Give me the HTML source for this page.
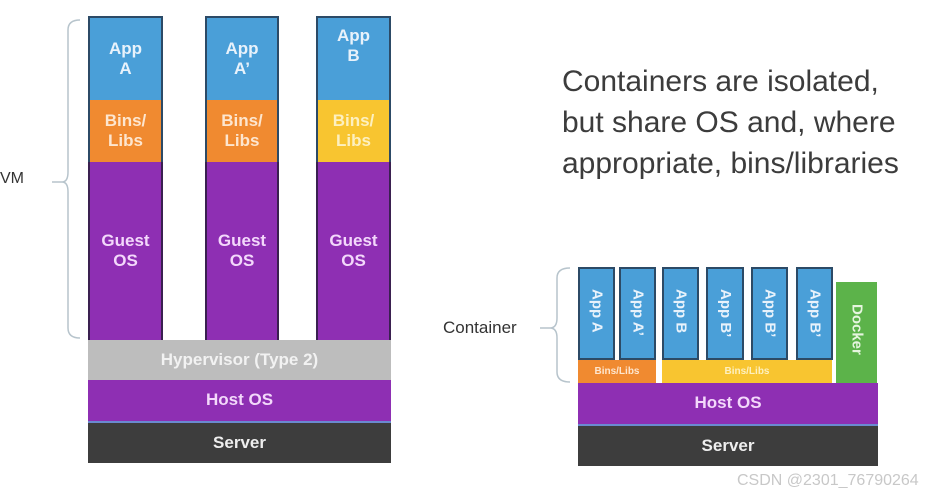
<!DOCTYPE html>
<html><head><style>
body{margin:0;width:946px;height:497px;background:#fff;position:relative;overflow:hidden;font-family:"Liberation Sans",sans-serif}
.b{position:absolute;box-sizing:border-box;display:flex;align-items:center;justify-content:center;text-align:center;font-weight:bold;line-height:1.2}
.app{background:#4a9fd8;color:#e8f2fb;border:2px solid #2c4a66;border-bottom:none}
.or{background:#f08a30;color:#fde6cf}
.ye{background:#f8c530;color:#fdf0c0}
.pu{background:#8e2fb3;color:#f3d8fb}
.v{writing-mode:vertical-rl;font-size:15px;justify-content:flex-start;padding-top:20px}
</style></head><body>
<div style="position:absolute;left:0;top:170px;font-size:16px;color:#333">VM</div>
<svg style="position:absolute;left:0;top:0" width="946" height="497">
<path d="M52 182 H62 M80 20 Q68 20 68 30 V172 Q68 182 62 182 Q68 182 68 192 V328 Q68 338 80 338" fill="none" stroke="#b7c4cc" stroke-width="1.5"/>
<path d="M540 328 H550 M570 268 Q557 268 557 278 V318 Q557 328 550 328 Q557 328 557 338 V372 Q557 382 570 382" fill="none" stroke="#b7c4cc" stroke-width="1.5"/>
</svg>
<!-- left columns -->
<div class="b app" style="left:88px;top:16px;width:75px;height:84px;font-size:17px">App<br>A</div>
<div class="b or" style="left:88px;top:100px;width:75px;height:62px;font-size:17px;border-left:2px solid #2c4a66;border-right:2px solid #2c4a66">Bins/<br>Libs</div>
<div class="b pu" style="left:88px;top:162px;width:75px;height:178px;font-size:17px;border-left:2px solid #3a2050;border-right:2px solid #3a2050">Guest<br>OS</div>
<div class="b app" style="left:205px;top:16px;width:74px;height:84px;font-size:17px">App<br>A’</div>
<div class="b or" style="left:205px;top:100px;width:74px;height:62px;font-size:17px;border-left:2px solid #2c4a66;border-right:2px solid #2c4a66">Bins/<br>Libs</div>
<div class="b pu" style="left:205px;top:162px;width:74px;height:178px;font-size:17px;border-left:2px solid #3a2050;border-right:2px solid #3a2050">Guest<br>OS</div>
<div class="b app" style="left:316px;top:16px;width:75px;height:84px;font-size:17px;align-items:flex-start;padding-top:8px">App<br>B</div>
<div class="b ye" style="left:316px;top:100px;width:75px;height:62px;font-size:17px;border-left:2px solid #2c4a66;border-right:2px solid #2c4a66">Bins/<br>Libs</div>
<div class="b pu" style="left:316px;top:162px;width:75px;height:178px;font-size:17px;border-left:2px solid #3a2050;border-right:2px solid #3a2050">Guest<br>OS</div>
<div class="b" style="left:88px;top:340px;width:303px;height:40px;background:#bdbdbd;color:#f2f2f2;font-size:17px">Hypervisor (Type 2)</div>
<div class="b pu" style="left:88px;top:380px;width:303px;height:43px;font-size:17px;border-bottom:2px solid #6a8ad0">Host OS</div>
<div class="b" style="left:88px;top:423px;width:303px;height:40px;background:#3d3d3d;color:#eee;font-size:17px">Server</div>
<!-- text -->
<div style="position:absolute;left:562px;top:61px;font-size:30px;line-height:41px;color:#3c3c3c">Containers are isolated,<br>but share OS and, where<br>appropriate, bins/libraries</div>
<!-- right -->
<div style="position:absolute;left:443px;top:318px;font-size:17px;color:#333">Container</div>
<div class="b app v" style="left:578px;top:267px;width:37px;height:93px;border:2px solid #2c4a66">App A</div>
<div class="b app v" style="left:619px;top:267px;width:37px;height:93px;border:2px solid #2c4a66">App A’</div>
<div class="b app v" style="left:662px;top:267px;width:37px;height:93px;border:2px solid #2c4a66">App B</div>
<div class="b app v" style="left:706px;top:267px;width:38px;height:93px;border:2px solid #2c4a66">App B’</div>
<div class="b app v" style="left:751px;top:267px;width:37px;height:93px;border:2px solid #2c4a66">App B’</div>
<div class="b app v" style="left:796px;top:267px;width:37px;height:93px;border:2px solid #2c4a66">App B’</div>
<div class="b v" style="left:836px;top:282px;width:41px;height:101px;background:#5cb34a;color:#e6f5df;padding-top:22px">Docker</div>
<div class="b or" style="left:578px;top:360px;width:78px;height:23px;font-size:10px">Bins/Libs</div>
<div class="b ye" style="left:662px;top:360px;width:170px;height:23px;font-size:10px">Bins/Libs</div>
<div class="b pu" style="left:578px;top:383px;width:300px;height:43px;font-size:17px;border-bottom:2px solid #6a8ad0">Host OS</div>
<div class="b" style="left:578px;top:426px;width:300px;height:40px;background:#3d3d3d;color:#eee;font-size:17px">Server</div>
<div style="position:absolute;left:737px;top:472px;font-size:16px;color:#c8c8c8">CSDN @2301_76790264</div>
</body></html>
